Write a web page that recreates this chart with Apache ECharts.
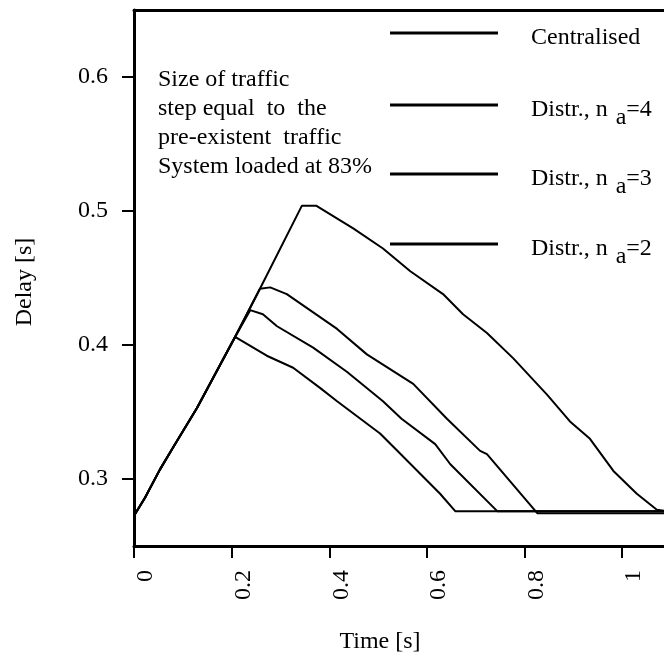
<!DOCTYPE html>
<html>
<head>
<meta charset="utf-8">
<script src="https://cdn.jsdelivr.net/npm/echarts@6/dist/echarts.min.js"></script>
<style>
html,body{margin:0;padding:0;background:#fff;}
#chart{width:664px;height:657px;}
</style>
</head>
<body>
<div id="chart"></div>
<script>
// common rising part (all four curves overlap here)
var riseT = [0, 0.0225, 0.053, 0.084, 0.129, 0.207];
var riseV = [0.2725, 0.286, 0.307, 0.326, 0.353, 0.406];

var centT = [0.258, 0.344, 0.373, 0.449, 0.510, 0.566, 0.633, 0.674, 0.723, 0.777, 0.846, 0.893, 0.934, 0.982, 1.030, 1.071, 1.1];
var centV = [0.442, 0.504, 0.504, 0.487, 0.472, 0.455, 0.438, 0.423, 0.409, 0.390, 0.363, 0.343, 0.330, 0.306, 0.289, 0.277, 0.2755];

var na4T = [0.258, 0.279, 0.313, 0.416, 0.477, 0.572, 0.641, 0.709, 0.723, 0.826, 1.1];
var na4V = [0.442, 0.443, 0.438, 0.412, 0.393, 0.371, 0.345, 0.321, 0.3185, 0.2745, 0.2745];

var na3T = [0.238, 0.264, 0.293, 0.367, 0.436, 0.510, 0.548, 0.617, 0.648, 0.744, 1.1];
var na3V = [0.426, 0.423, 0.414, 0.398, 0.380, 0.358, 0.345, 0.326, 0.311, 0.276, 0.276];

var na2T = [0.272, 0.326, 0.381, 0.416, 0.504, 0.545, 0.627, 0.658, 1.1];
var na2V = [0.392, 0.383, 0.368, 0.358, 0.334, 0.319, 0.289, 0.276, 0.276];

var names = ['Centralised', 'Distr., n_a=4', 'Distr., n_a=3', 'Distr., n_a=2'];
var legendTops = [26, 90, 159, 229];
var xTicks = [0, 0.2, 0.4, 0.6, 0.8, 1];
var yTicks = [0.3, 0.4, 0.5, 0.6];
var note = 'Size of traffic\nstep equal  to  the\npre-existent  traffic\nSystem loaded at 83%';

var FONT = 'Liberation Serif';

function pts(tt, vv) {
    var tAll = riseT.concat(tt), vAll = riseV.concat(vv), out = [];
    for (var i = 0; i < tAll.length; i++) out.push([tAll[i], vAll[i]]);
    return out;
}
var tails = [[centT, centV], [na4T, na4V], [na3T, na3V], [na2T, na2V]];

var chart = echarts.init(document.getElementById('chart'));

var series = names.map(function (n, i) {
    return {
        name: n, type: 'line', symbol: 'none', color: '#000',
        lineStyle: {color: '#000', width: 2},
        data: pts(tails[i][0], tails[i][1])
    };
});

var legends = names.map(function (n, i) {
    return {
        data: [n], left: 390, top: legendTops[i], padding: 0,
        icon: 'rect', itemWidth: 108, itemHeight: 3,
        formatter: function (name) {
            var k = name.indexOf('_a');
            if (k < 0) return '{t|' + name + '}';
            return '{t|' + name.slice(0, k) + ' }{s|a}{t|' + name.slice(k + 2) + '}';
        },
        textStyle: {
            padding: [10, 0, 0, 28],
            rich: {
                t: {fontFamily: FONT, fontSize: 24, color: '#000', lineHeight: 26},
                s: {fontFamily: FONT, fontSize: 24, color: '#000', lineHeight: 26, padding: [16, 0, 0, 2]}
            }
        }
    };
});

var option = {
    animation: false,
    backgroundColor: '#fff',
    grid: {left: 134, top: 10, right: -7, bottom: 111, outerBoundsMode: 'none'},
    legend: legends,
    xAxis: [{
        type: 'value', min: 0, max: 1.1, interval: 0.2,
        name: 'Time [s]', nameLocation: 'middle', nameGap: 84,
        nameTextStyle: {fontFamily: FONT, fontSize: 24, color: '#000', padding: [0, 45, 0, 0]},
        splitLine: {show: false},
        axisLine: {lineStyle: {color: '#000', width: 3}},
        axisTick: {length: 12, lineStyle: {color: '#000', width: 2}, customValues: xTicks},
        axisLabel: {
            customValues: xTicks, rotate: 90, margin: 24, verticalAlign: 'top',
            fontFamily: FONT, fontSize: 24, color: '#000',
            formatter: function (v) { return String(+v.toFixed(1)); }
        }
    }, {
        type: 'value', position: 'top', min: 0, max: 1.1,
        splitLine: {show: false}, axisTick: {show: false}, axisLabel: {show: false},
        axisLine: {lineStyle: {color: '#000', width: 3}}
    }],
    yAxis: {
        type: 'value', min: 0.25, max: 0.65,
        name: 'Delay [s]', nameLocation: 'middle', nameGap: 97,
        nameTextStyle: {fontFamily: FONT, fontSize: 24, color: '#000', padding: [0, 8, 0, 0]},
        splitLine: {show: false},
        axisLine: {lineStyle: {color: '#000', width: 3}},
        axisTick: {length: 12, lineStyle: {color: '#000', width: 2}, customValues: yTicks},
        axisLabel: {
            customValues: yTicks, margin: 26,
            fontFamily: FONT, fontSize: 24, color: '#000',
            formatter: function (v) { return v.toFixed(1); }
        }
    },
    graphic: [{
        type: 'text', left: 158, top: 65,
        style: {text: note, font: '24px "Liberation Serif"', lineHeight: 29, fill: '#000'}
    }],
    series: series
};

chart.setOption(option);
</script>
</body>
</html>
